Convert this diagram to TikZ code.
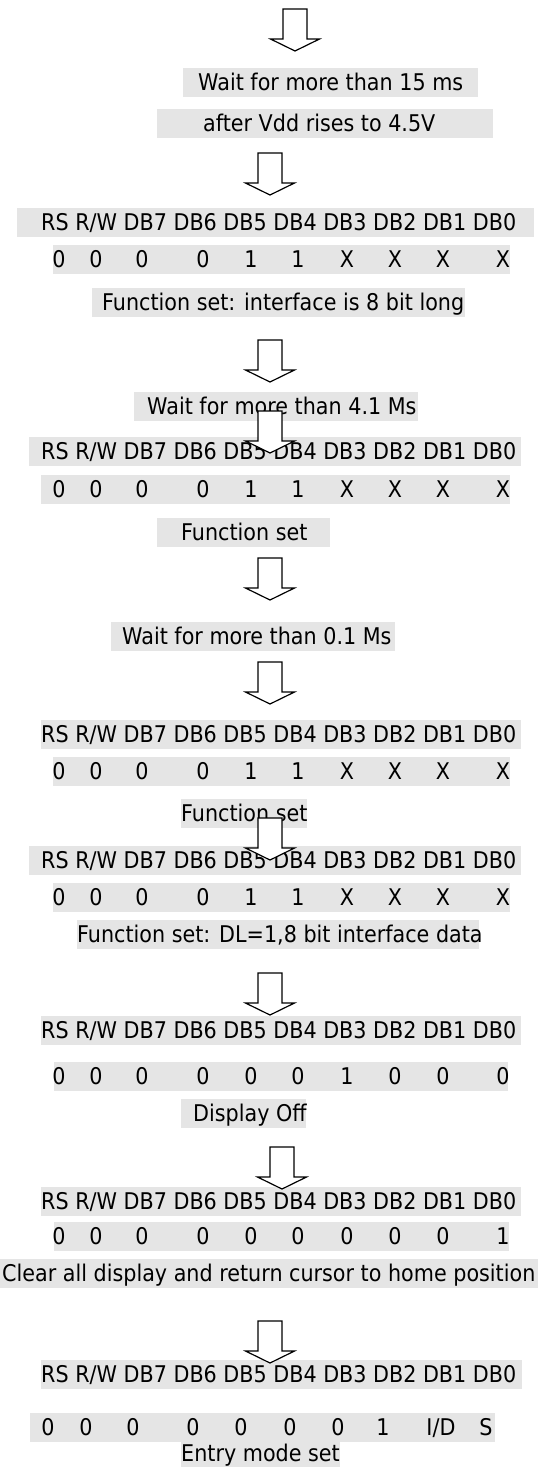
\documentclass[tikz,border=0pt]{standalone}
\usepackage{fontspec}
\setmainfont{DejaVu Sans}[FakeStretch=0.9]
\newcommand{\rsbits}{RS R/W DB7 DB6 DB5 DB4 DB3 DB2 DB1 DB0}
\newcommand{\colx}{{59,96,142,203,251,298,347,395,443,503}}
\newcommand{\strip}[5]{\node[band] (#1) at (#2) {\makebox[#3pt][l]{\hspace*{#4pt}#5}};}
\newcommand{\bitrow}[3]{\foreach \v [count=\i from 0] in {#3} {\pgfmathsetmacro{\xx}{\colx[\i]}\node[bit] (#1-\i) at (\xx,#2) {\v};}}

\begin{document}
\begin{tikzpicture}[x=1pt,y=-1pt,
  band/.style={fill=black!10,inner sep=0pt,minimum height=29pt,text height=20pt,text depth=4pt,anchor=west,font=\fontsize{23}{28}\selectfont},
  bit/.style={inner sep=0pt,text height=20pt,text depth=4pt,font=\fontsize{23}{28}\selectfont},
  downarr/.pic={\draw[fill=white,line width=1.2pt] (-12,0) -- (12,0) -- (12,30) -- (24.5,30) -- (0,42) -- (-24.5,30) -- (-12,30) -- cycle;}]
\useasboundingbox (0,0) rectangle (551,1467);
\strip{w15}{183,82}{295}{15}{Wait for more than 15 ms}
\strip{vdd}{157,123}{336}{46}{after Vdd rises to 4.5V}
\strip{rs1}{17,222}{517}{24}{\rsbits}
\node[band,minimum width=457pt] (b1) at (53,259) {};
\bitrow{b1}{259}{0,0,0,0,1,1,X,X,X,X}
\strip{fs1}{92,302}{373}{10}{Function set: interface is 8 bit long}
\strip{w41}{134,406}{284}{13}{Wait for more than 4.1 Ms}
\strip{rs2}{29,451}{492}{12}{\rsbits}
\node[band,minimum width=469pt] (b2) at (41,489) {};
\bitrow{b2}{489}{0,0,0,0,1,1,X,X,X,X}
\strip{fs2}{157,532}{173}{24}{Function set}
\strip{w01}{111,636}{284}{11}{Wait for more than 0.1 Ms}
\strip{rs3}{41,734}{480}{0}{\rsbits}
\node[band,minimum width=457pt] (b3) at (53,771) {};
\bitrow{b3}{771}{0,0,0,0,1,1,X,X,X,X}
\strip{fs3}{181,813}{126}{0}{Function set}
\strip{rs4}{29,860}{492}{12}{\rsbits}
\node[band,minimum width=457pt] (b4) at (53,897) {};
\bitrow{b4}{897}{0,0,0,0,1,1,X,X,X,X}
\strip{dl}{77,934}{402}{0}{Function set: DL=1,8 bit interface data}
\strip{rs5}{41,1030}{480}{0}{\rsbits}
\node[band,minimum width=454pt] (b5) at (54,1076) {};
\bitrow{b5}{1076}{0,0,0,0,0,0,1,0,0,0}
\strip{off}{181,1113}{125}{12}{Display Off}
\strip{rs6}{41,1201}{480}{0}{\rsbits}
\node[band,minimum width=455pt] (b6) at (54,1236) {};
\bitrow{b6}{1236}{0,0,0,0,0,0,0,0,0,1}
\strip{clr}{0,1273}{538}{2}{Clear all display and return cursor to home position}
\strip{rs7}{41,1374}{481}{0}{\rsbits}
\node[band,minimum width=465pt] (b7) at (30,1427) {};
\foreach \v/\x [count=\i from 0] in {0/48,0/86,0/133,0/193,0/241,0/290,0/338,1/383,I\slash D/441,S/486}
  \node[bit] (b7-\i) at (\x,1427) {\v};
\strip{ent}{181,1453}{159}{0}{Entry mode set}
\pic at (295,9) {downarr};
\pic at (270,153) {downarr};
\pic at (270,340) {downarr};
\pic at (270,411) {downarr};
\pic at (270,558) {downarr};
\pic at (270,662) {downarr};
\pic at (270,818) {downarr};
\pic at (270,973) {downarr};
\pic at (282,1147) {downarr};
\pic at (270,1321) {downarr};
\end{tikzpicture}
\end{document}
